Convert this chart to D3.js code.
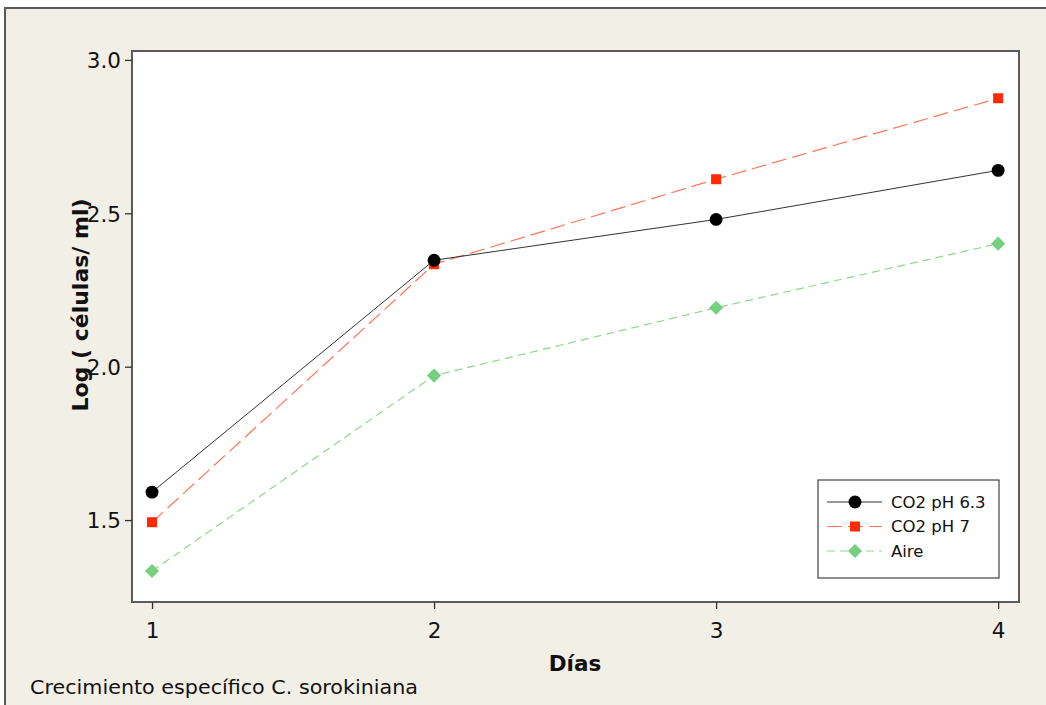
<!DOCTYPE html>
<html><head><meta charset="utf-8">
<script src="https://cdn.jsdelivr.net/npm/d3@7/dist/d3.min.js"></script>
<style>body{margin:0;background:#fff}svg{display:block}</style>
</head><body>
<svg id="c" width="1046" height="705"></svg>
<script>
const days = [1, 2, 3, 4];
const xTicks = [1, 2, 3, 4];
const yTicks = [1.5, 2.0, 2.5, 3.0];
const seriesNames = ["CO2 pH 6.3", "CO2 pH 7", "Aire"];
const co2ph63 = [1.591, 2.347, 2.480, 2.640];
const co2ph7 = [1.493, 2.334, 2.611, 2.875];
const aire = [1.334, 1.971, 2.192, 2.401];
const xTitle = "Días";
const yTitle = "Log ( células/ ml)";
const footer = "Crecimiento específico C. sorokiniana";

const svg = d3.select("#c");
const font = "'DejaVu Sans', Verdana, sans-serif";
svg.append("rect").attr("x",0).attr("y",0).attr("width",1046).attr("height",705).attr("fill","#fff");
svg.append("rect").attr("x",5).attr("y",8).attr("width",1100).attr("height",760)
  .attr("fill","#f2efe7").attr("stroke","#5a5a5a").attr("stroke-width",2);

const L=132, R=1019, T=51, B=602;
const x = d3.scaleLinear().domain([0.929, 4.074]).range([L, R]);
const y = d3.scaleLinear().domain([1.233, 3.029]).range([B, T]);

svg.append("rect").attr("x",L).attr("y",T).attr("width",R-L).attr("height",B-T)
  .attr("fill","#fff").attr("stroke","#5a5a5a").attr("stroke-width",2);

const xa = svg.append("g").attr("transform",`translate(0,${B})`)
  .call(d3.axisBottom(x).tickValues(xTicks).tickFormat(d3.format("d")).tickSize(7).tickSizeOuter(0));
const ya = svg.append("g").attr("transform",`translate(${L},0)`)
  .call(d3.axisLeft(y).tickValues(yTicks).tickFormat(d3.format(".1f")).tickSize(7).tickSizeOuter(0));
[xa, ya].forEach(a=>{
  a.select(".domain").remove();
  a.selectAll("line").attr("stroke","#333").attr("stroke-width",1.3);
  a.selectAll("text").attr("font-family",font).attr("font-size",21.5).attr("fill","#111");
});
xa.selectAll("text").attr("dy","1.2em");
ya.selectAll("text").attr("dx","-0.05em").attr("dy","0.36em");

svg.append("text").attr("x",575).attr("y",671).attr("text-anchor","middle")
  .attr("font-family",font).attr("font-size",21.5).attr("font-weight","bold").attr("fill","#111").text(xTitle);
svg.append("text").attr("transform","translate(88,305) rotate(-90)").attr("text-anchor","middle")
  .attr("font-family",font).attr("font-size",22).attr("font-weight","bold").attr("fill","#111").text(yTitle);
svg.append("text").attr("x",30).attr("y",694)
  .attr("font-family",font).attr("font-size",20).attr("fill","#111")
  .attr("textLength",388).attr("lengthAdjust","spacingAndGlyphs").text(footer);

const diamond = {draw(ctx, size){ const r=Math.sqrt(size/2); ctx.moveTo(0,-r); ctx.lineTo(r,0); ctx.lineTo(0,r); ctx.lineTo(-r,0); ctx.closePath(); }};
const series = [
  {name:seriesNames[0], vals:co2ph63, color:"#333", mcolor:"#000", dash:null, sym:d3.symbolCircle, size:130, w:1},
  {name:seriesNames[1], vals:co2ph7, color:"#ff7656", mcolor:"#ff2a00", dash:"15,6", sym:d3.symbolSquare, size:100, w:1.2},
  {name:seriesNames[2], vals:aire, color:"#8fd68f", mcolor:"#74d07f", dash:"8,5", sym:diamond, size:100, w:1.2},
];
const line = d3.line().x((d,i)=>x(days[i])).y(d=>y(d));
const draw = [series[2], series[1], series[0]];
draw.forEach(s=>{
  svg.append("path").attr("d",line(s.vals)).attr("fill","none").attr("stroke",s.color)
    .attr("stroke-width",s.w).attr("stroke-dasharray",s.dash);
});
draw.forEach(s=>{
  svg.selectAll(null).data(s.vals).enter().append("path")
    .attr("d",d3.symbol().type(s.sym).size(s.size))
    .attr("transform",(d,i)=>`translate(${x(days[i])},${y(d)})`).attr("fill",s.mcolor);
});

// legend
const lg = svg.append("g");
lg.append("rect").attr("x",818).attr("y",480).attr("width",181).attr("height",98)
  .attr("fill","#fff").attr("stroke","#444").attr("stroke-width",1.2);
series.forEach((s,i)=>{
  const yy = 502 + i*24.5;
  lg.append("line").attr("x1",827).attr("x2",882).attr("y1",yy).attr("y2",yy)
    .attr("stroke",s.color).attr("stroke-width",s.w).attr("stroke-dasharray",s.dash);
  lg.append("path").attr("d",d3.symbol().type(s.sym).size(s.size)).attr("transform",`translate(855,${yy})`).attr("fill",s.mcolor);
  lg.append("text").attr("x",891).attr("y",yy).attr("dy","0.36em").attr("font-family",font)
    .attr("font-size",16.5).attr("fill","#111").text(s.name);
});
</script>
</body></html>
